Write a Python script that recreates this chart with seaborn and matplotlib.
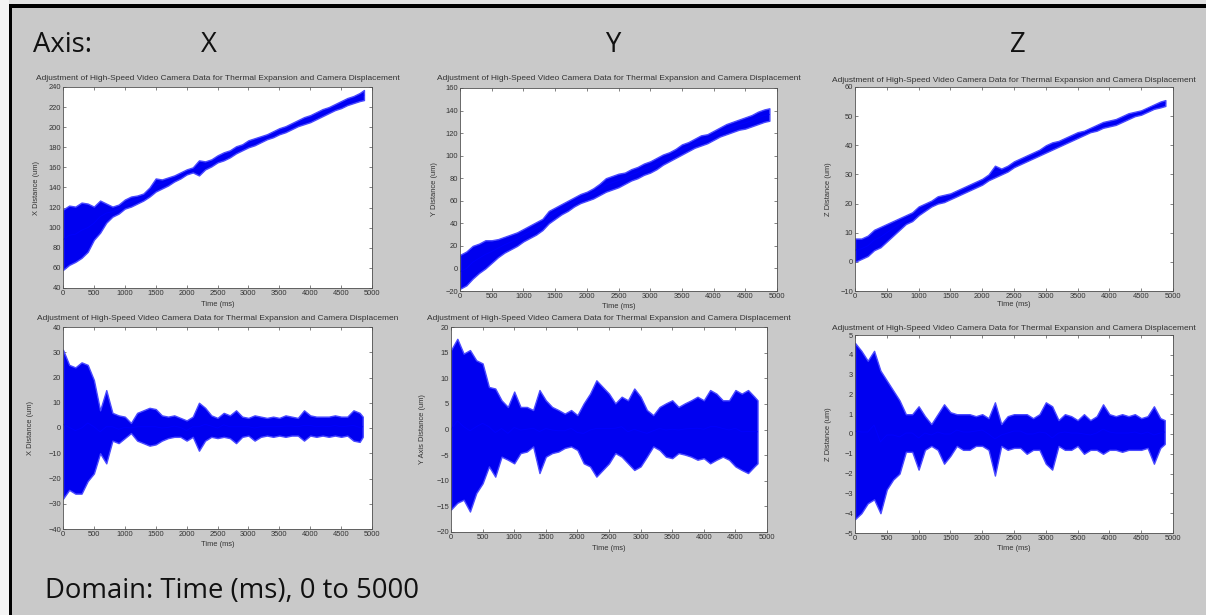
import numpy as np
import pandas as pd
import matplotlib
matplotlib.use("Agg")
import matplotlib.pyplot as plt
from matplotlib.patches import Rectangle
import seaborn as sns

sns.set_style("ticks")
plt.rcParams["font.family"] = ["Liberation Sans", "DejaVu Sans"]

# ---------------- data (envelopes, every 100 ms) ----------------
T_GRID = list(range(0, 4900, 100))   # 0 ... 4800 ms sampling grid of the readings

# Top row: raw distances
X_RAW_T = T_GRID + [4870]
X_RAW_LO = [58, 63, 66, 70, 76, 88, 95, 105, 111, 114, 119, 121, 124, 127, 131, 136, 139, 142, 146, 149,
            153, 155, 152, 158, 161, 165, 167, 170, 174, 177, 180, 182, 185, 188, 190, 193, 195, 198, 201, 203,
            205, 208, 211, 214, 217, 219, 222, 224, 226, 227]
X_RAW_HI = [118, 122, 121, 125, 124, 121, 127, 124, 121, 123, 128, 131, 132, 134, 140, 149, 148, 150, 152, 155,
            158, 160, 167, 166, 168, 172, 175, 177, 181, 183, 187, 189, 191, 193, 196, 199, 201, 204, 207, 210,
            212, 215, 218, 220, 223, 226, 229, 231, 234, 237]

Y_RAW_T = T_GRID + [4880]
Y_RAW_LO = [-18, -15, -9, -4, 0, 5, 10, 14, 17, 20, 24, 27, 30, 34, 40, 44, 48, 51, 55, 58,
            60, 62, 65, 68, 70, 72, 75, 78, 80, 83, 85, 88, 92, 95, 98, 101, 104, 107, 109, 111,
            114, 117, 119, 121, 123, 124, 126, 128, 130, 131]
Y_RAW_HI = [12, 15, 20, 22, 25, 25, 26, 28, 30, 32, 35, 38, 41, 44, 51, 54, 57, 60, 63, 66,
            68, 71, 75, 80, 82, 84, 85, 88, 90, 93, 95, 98, 101, 103, 106, 110, 112, 115, 118, 119,
            122, 125, 128, 130, 132, 134, 136, 139, 141, 142]

Z_RAW_T = T_GRID + [4880]
Z_RAW_LO = [0, 1, 2, 4, 5, 7, 9, 11, 13, 14, 16, 17.5, 19, 20, 20.5, 21.5, 22.5, 23.5, 24.5, 25.5,
            26.5, 28, 29, 30, 31, 32.5, 33.5, 34.5, 35.5, 36.5, 37.5, 38.5, 39.5, 40.5, 41.5, 42.5, 43.5, 44.5, 45, 46,
            46.5, 47, 48, 49, 50, 50.5, 51.5, 52.5, 53, 53.5]
Z_RAW_HI = [8, 8, 9, 11, 12, 13, 14, 15, 16, 17, 19, 20, 21, 22.5, 23, 23.5, 24.5, 25.5, 26.5, 27.5,
            28.5, 30, 33, 32, 33, 34.5, 35.5, 36.5, 37.5, 38.5, 40, 41, 41.5, 42.5, 43.5, 44.5, 45, 46, 47, 48,
            48.5, 49, 50, 51, 51.5, 52, 53, 54, 55, 55.5]

# Bottom row: adjusted (residual) distances
X_ADJ_T = T_GRID + [4850]
X_ADJ_HI = [31, 25, 24, 26, 25, 19, 7, 15, 6, 5, 4.5, 2, 6, 7, 8, 7.5, 5, 4.5, 5, 4,
            3, 4.5, 10, 8, 5, 4, 6, 5, 7, 4.5, 4, 5, 4.5, 4, 4.5, 4, 5, 4.5, 4, 7,
            5, 4.5, 4.5, 4.5, 5, 4.5, 4.5, 7, 6, 4.5]
X_ADJ_LO = [-28, -24.5, -26, -26, -21, -18, -10, -14, -5, -6, -4, -2, -5, -6, -7, -6.5, -5, -4, -3.5, -3.5,
            -5, -3.5, -9, -5, -3.5, -4, -3.5, -4, -6, -3.5, -3, -5, -3.5, -3, -3.5, -3, -3.5, -3, -3, -5,
            -3, -3.5, -3, -3.5, -3, -3.5, -3, -5, -5.5, -3.5]

Y_ADJ_T = T_GRID + [4850]
Y_ADJ_HI = [15.5, 17.7, 14.8, 15.5, 13.5, 12.9, 8.3, 8, 5.7, 4.4, 7.4, 4.4, 4.4, 3.8, 7.7, 5.7, 4.4, 3.8, 3.1, 3.8,
            2.8, 5.1, 7, 9.6, 8.3, 7, 5.1, 6.4, 5.7, 8, 6.4, 3.8, 2.8, 4.4, 5.1, 5.7, 4.4, 5.1, 5.7, 6.4,
            5.7, 7.7, 7, 5.7, 5.7, 7.7, 7, 7.7, 6.4, 5.7]
Y_ADJ_LO = [-15.6, -14.3, -13.7, -16, -12.4, -10.5, -7.2, -9.2, -5.3, -5.9, -6.6, -4.6, -4.3, -3.3, -8.5, -5.3, -4.6, -4.3, -3.6, -3.3,
            -4, -6.6, -7.2, -9.2, -7.9, -6.6, -4.6, -5.3, -6.6, -7.9, -7.2, -5.3, -3.3, -4, -5.3, -5.6, -4.6, -4.9, -5.3, -5.9,
            -5.6, -6.6, -5.9, -5.3, -5.9, -7.2, -7.9, -8.5, -7.2, -6.6]

Z_ADJ_T = T_GRID + [4870]
Z_ADJ_HI = [4.6, 4.2, 3.7, 4.2, 3.2, 2.7, 2.2, 1.7, 1, 1, 1.4, 0.9, 0.5, 1, 1.5, 1.1, 1, 1, 1, 0.9,
            1, 0.8, 1.6, 0.5, 0.9, 1, 1, 1, 0.8, 1, 1.6, 1.4, 0.7, 1, 0.9, 0.7, 1, 0.7, 0.9, 1.5,
            1, 0.9, 1, 0.9, 1, 0.8, 0.9, 1.4, 0.8, 0.7]
Z_ADJ_LO = [-4.3, -4, -3.5, -3.3, -4, -2.8, -2.3, -2, -0.9, -0.9, -1.8, -0.8, -0.6, -0.8, -1.5, -1.1, -0.6, -0.8, -0.8, -0.6,
            -0.6, -0.8, -2.1, -0.6, -0.8, -0.7, -0.7, -1, -0.8, -0.8, -1.5, -1.8, -0.6, -0.8, -0.8, -0.6, -1, -0.8, -0.8, -1,
            -0.8, -0.8, -0.9, -0.8, -0.8, -0.8, -0.7, -1.5, -0.7, -0.5]

X_TICKS = list(range(0, 5001, 500))
TITLE = "Adjustment of High-Speed Video Camera Data for Thermal Expansion and Camera Displacement"
TITLE_CUT = "Adjustment of High-Speed Video Camera Data for Thermal Expansion and Camera Displacemen"
AXIS_NAMES = ["X", "Y", "Z"]

# ---------------- layout ----------------
W, H = 1206, 615
fig = plt.figure(figsize=(W / 100, H / 100), dpi=100)
SLIDE = "#c9c9c9"
fig.patch.set_facecolor(SLIDE)

def fx(x):
    return x / W

def fy(y):
    return 1 - y / H

# slide frame
fig.add_artist(Rectangle((0, fy(4)), 1, 4 / H, transform=fig.transFigure, color="#e2e2e2", lw=0))
fig.add_artist(Rectangle((0, 0), fx(9), 1, transform=fig.transFigure, color="#f4f4f4", lw=0))
fig.add_artist(Rectangle((fx(9), fy(8)), 1, 4 / H, transform=fig.transFigure, color="black", lw=0))
fig.add_artist(Rectangle((fx(9), 0), 3 / W, fy(4), transform=fig.transFigure, color="black", lw=0))

BIG = dict(family=["Open Sans", "DejaVu Sans"], fontsize=19.8, color="#111111", va="center")
fig.text(fx(33), fy(45), "Axis:", ha="left", **BIG)
for name, cx in zip(AXIS_NAMES, [209, 613, 1018]):
    fig.text(fx(cx), fy(45), name, ha="center", **BIG)
fig.text(fx(45), fy(591), "Domain: Time (ms), 0 to 5000", ha="left", **BIG)

panels = [
    # (t, lo, hi, ylim, ystep, ylabel, title, box px (l, t, r, b), ylabel x px, title y px, xlabel y px)
    (X_RAW_T, X_RAW_LO, X_RAW_HI, (40, 240), 20, "X Distance (um)", TITLE, (63, 87, 372, 288), 36, 79, 305),
    (Y_RAW_T, Y_RAW_LO, Y_RAW_HI, (-20, 160), 20, "Y Distance (um)", TITLE, (460, 88, 777, 291), 435, 79, 306),
    (Z_RAW_T, Z_RAW_LO, Z_RAW_HI, (-10, 60), 10, "Z Distance (um)", TITLE, (855, 87, 1173, 291), 829, 80, 305),
    (X_ADJ_T, X_ADJ_LO, X_ADJ_HI, (-40, 40), 10, "X Distance (um)", TITLE_CUT, (63, 327, 372, 529), 31, 318, 545),
    (Y_ADJ_T, Y_ADJ_LO, Y_ADJ_HI, (-20, 20), 5, "Y Axis Distance (um)", TITLE, (451, 327, 767, 532), 422, 319, 548),
    (Z_ADJ_T, Z_ADJ_LO, Z_ADJ_HI, (-5, 5), 1, "Z Distance (um)", TITLE, (855, 335, 1173, 533), 829, 328, 548),
]

SMALL = 5.4
TXT = "#333333"
for t, lo, hi, ylim, ystep, ylabel, title, box, ylx, tty, xly in panels:
    l, tp, r, b = box
    ax = fig.add_axes([fx(l), fy(b), (r - l) / W, (b - tp) / H])
    ax.set_facecolor("white")
    df = pd.DataFrame({"t": list(t) + list(t), "v": list(lo) + list(hi)})
    sns.lineplot(data=df, x="t", y="v", estimator="mean", errorbar=("pi", 100),
                 color="#0000ff", lw=0.6, ax=ax,
                 err_kws={"alpha": 1, "facecolor": "#0000f0", "edgecolor": "#4a4aff", "linewidth": 1.0})
    ax.set_xlim(0, 5000)
    ax.set_ylim(*ylim)
    ax.set_xticks(X_TICKS)
    ax.set_yticks(list(range(ylim[0], ylim[1] + 1, ystep)))
    ax.set_xlabel("")
    ax.set_ylabel("")
    ax.tick_params(direction="in", top=True, right=True, length=2.5, width=0.5,
                   labelsize=SMALL, pad=1.5, colors="#505050", labelcolor=TXT)
    for s in ax.spines.values():
        s.set_linewidth(0.6)
        s.set_color("#505050")
    cx = (l + r) / 2
    fig.text(fx(ylx), fy((tp + b) / 2), ylabel, rotation=90, ha="center", va="center",
             fontsize=SMALL, color=TXT)
    fig.text(fx(cx), fy(tty), title, ha="center", va="center", fontsize=6.0, color=TXT)
    fig.text(fx(cx), fy(xly), "Time (ms)", ha="center", va="center", fontsize=SMALL, color=TXT)

fig.savefig("out.png", dpi=100, facecolor=fig.get_facecolor())
